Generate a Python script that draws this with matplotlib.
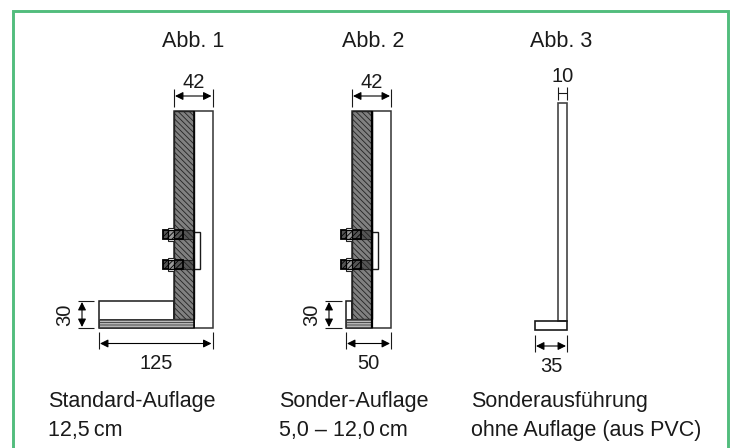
import matplotlib
matplotlib.use('Agg')
import matplotlib.pyplot as plt
from matplotlib.patches import Rectangle

plt.rcParams['font.family'] = ['Liberation Sans', 'DejaVu Sans']
plt.rcParams['hatch.linewidth'] = 0.6

GREEN = '#52bd7d'
INK = '#1a1a1a'
TEXT_SIZE = 15.5
DIM_SIZE = 14.5

# Profilmasse in Pixeln des Originals
headers = ['Abb. 1', 'Abb. 2', 'Abb. 3']
header_x = [193, 373.5, 561.5]
captions = [['Standard-Auflage', '12,5\u2009cm'],
            ['Sonder-Auflage', '5,0 \u2013 12,0\u2009cm'],
            ['Sonderausführung', 'ohne Auflage (aus PVC)']]
caption_x = [48.5, 279, 471]

top_labels = ['42', '42', '10']
foot_labels = ['125', '50', '35']
height_labels = ['30', '30']

# Abb. 1 / Abb. 2: links Fuss, Daemmung links/rechts, Aussenkante, Buegel
foot_left = [99, 346]
core_left = [174, 352]
core_right = [194, 372]
outer_right = [212.5, 391]
bracket_right = [200, 378]
bolt_left = [163, 341]
dim30_x = [82, 329]
dim30_ext = [(78, 94), (325, 342)]
dim30_text_x = [70, 317]
top_y = 111
foot_top = 301
strip_top = 319
bottom_y = 328
bolt_y = [235, 265]

# Abb. 3
pvc_left, pvc_right = 558, 567
pvc_foot_left = 535
pvc_top, pvc_foot_top, pvc_bottom = 103, 321, 330.5

fig = plt.figure(figsize=(7.3, 4.48), dpi=100)
ax = fig.add_axes([0, 0, 1, 1])
ax.set_xlim(0, 730)
ax.set_ylim(448, 0)
ax.axis('off')


def box(x0, y0, x1, y1, **kw):
    kw.setdefault('facecolor', 'none')
    kw.setdefault('edgecolor', INK)
    kw.setdefault('linewidth', 1.1)
    ax.add_patch(Rectangle((x0, y0), x1 - x0, y1 - y0, **kw))


def seg(x0, y0, x1, y1, lw=0.8, color=INK):
    ax.plot([x0, x1], [y0, y1], color=color, lw=lw, solid_capstyle='butt')


def arrow(x0, y0, x1, y1):
    ax.annotate('', xy=(x1, y1), xytext=(x0, y0),
                arrowprops=dict(arrowstyle='<|-|>', color='black', lw=0.8,
                                mutation_scale=12, shrinkA=0, shrinkB=0))


def label(x, y, s, size=TEXT_SIZE, **kw):
    kw.setdefault('ha', 'center')
    kw.setdefault('va', 'baseline')
    ax.text(x, y, s, fontsize=size, color=INK, **kw)


# Rahmen, unten offen
ax.plot([12.5, 12.5, 728, 728], [448, 11, 11, 448], color=GREEN, lw=2.1,
        solid_joinstyle='miter')

for x, s in zip(header_x, headers):
    label(x, 47, s)
for x, lines in zip(caption_x, captions):
    label(x, 407, lines[0], ha='left')
    label(x, 436, lines[1], ha='left')

for i in range(2):
    # Aussenprofil
    box(core_left[i], top_y, outer_right[i], bottom_y, edgecolor='#333333')
    box(foot_left[i], foot_top, core_left[i], bottom_y)
    # Daemmung und Fussstreifen
    box(core_left[i], top_y, core_right[i], strip_top, facecolor='#808080',
        hatch='\\\\\\\\\\\\', edgecolor='#222222', linewidth=1.0)
    box(foot_left[i], strip_top, core_right[i], bottom_y, facecolor='#bbbbbb',
        hatch='-------', edgecolor='#333333', linewidth=0.7)
    seg(core_right[i], top_y, core_right[i], bottom_y, lw=1.6 if i else 1.1, color='black')

    # Buegel und Schrauben
    box(core_right[i] - 1, bolt_y[0] - 3, bracket_right[i], bolt_y[1] + 4, linewidth=1.0)
    for y in bolt_y:
        box(bolt_left[i] + 11, y - 4.5, core_right[i], y + 4.5, facecolor='#555555',
            edgecolor='#222222', linewidth=0.8, hatch='\\\\\\\\\\\\')
        box(bolt_left[i], y - 4.5, bolt_left[i] + 20, y + 4.5, facecolor='#555555',
            hatch='//////', edgecolor='black', linewidth=1.3)
        box(bolt_left[i] + 5, y - 6.5, bolt_left[i] + 11, y + 6.5, facecolor='white',
            edgecolor='#222222', linewidth=0.8)
        box(bolt_left[i] + 5, y - 4.5, bolt_left[i] + 11, y + 4.5, facecolor='#999999',
            hatch='//////', edgecolor='black', linewidth=0.9)

    # Masslinien
    seg(core_left[i], 89, core_left[i], 107)
    seg(outer_right[i], 89, outer_right[i], 107)
    arrow(core_left[i] + 1, 96, outer_right[i] - 1, 96)
    label((core_left[i] + outer_right[i]) / 2, 88, top_labels[i], size=DIM_SIZE)

    seg(dim30_ext[i][0], foot_top, dim30_ext[i][1], foot_top)
    seg(dim30_ext[i][0], bottom_y, dim30_ext[i][1], bottom_y)
    arrow(dim30_x[i], foot_top + 1, dim30_x[i], bottom_y - 1)
    label(dim30_text_x[i], 315, height_labels[i], size=DIM_SIZE, rotation=90,
          rotation_mode='anchor')

    seg(foot_left[i], 332, foot_left[i], 349)
    seg(outer_right[i], 332, outer_right[i], 349)
    arrow(foot_left[i] + 1, 343.5, outer_right[i] - 1, 343.5)
    label((foot_left[i] + outer_right[i]) / 2, 369, foot_labels[i], size=DIM_SIZE)

# Abb. 3
box(pvc_left, pvc_top, pvc_right, pvc_foot_top, edgecolor='#444444', linewidth=1.2)
box(pvc_foot_left, pvc_foot_top, pvc_right, pvc_bottom, linewidth=1.2)
seg(pvc_left, 87, pvc_left, 100)
seg(pvc_right, 87, pvc_right, 100)
seg(pvc_left, 93.5, pvc_right, 93.5)
label((pvc_left + pvc_right) / 2, 82, top_labels[2], size=DIM_SIZE)
seg(pvc_foot_left, 335, pvc_foot_left, 352)
seg(pvc_right, 335, pvc_right, 352)
arrow(pvc_foot_left + 1, 346, pvc_right - 1, 346)
label((pvc_foot_left + pvc_right) / 2, 372, foot_labels[2], size=DIM_SIZE)

fig.savefig('out.png', dpi=100)
